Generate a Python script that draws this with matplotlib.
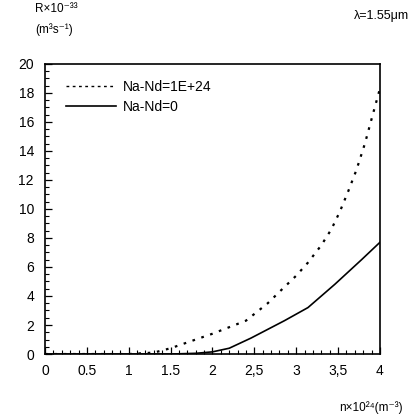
import numpy as np
import matplotlib.pyplot as plt
from matplotlib.ticker import MultipleLocator

plt.rcParams['font.family'] = ['Liberation Sans', 'DejaVu Sans']

# Curve readings (n in 1e24 m^-3, R in 1e-33 m^3 s^-1)
n_doped = [0.0, 0.5, 1.0, 1.3, 1.5, 1.7, 2.0, 2.4, 2.66, 2.82, 3.0, 3.14, 3.3,
           3.42, 3.52, 3.62, 3.72, 3.82, 3.9, 4.0]
r_doped = [0.0, 0.0, 0.0, 0.1, 0.4, 0.8, 1.4, 2.3, 3.5, 4.4, 5.4, 6.3, 7.5,
           8.6, 9.8, 11.2, 12.7, 14.5, 16.2, 18.3]
n_undoped = [0.0, 0.5, 1.0, 1.5, 1.8, 2.0, 2.2, 2.46, 2.86, 3.14, 3.46, 3.78, 4.0]
r_undoped = [0.0, 0.0, 0.0, 0.0, 0.05, 0.15, 0.4, 1.1, 2.3, 3.2, 4.8, 6.5, 7.7]

x_ticks = [0, 0.5, 1, 1.5, 2, 2.5, 3, 3.5, 4]
x_ticklabels = ['0', '0.5', '1', '1.5', '2', '2,5', '3', '3,5', '4']
y_ticks = list(range(0, 21, 2))

fig = plt.figure(figsize=(4.13, 4.17), dpi=100)
ax = fig.add_axes([0.109, 0.151, 0.811, 0.696])

ax.plot(n_doped, r_doped, color='black', linestyle=(0, (1.2, 3)), linewidth=1.6,
        label='Na-Nd=1E+24')
ax.plot(n_undoped, r_undoped, color='black', linestyle='-', linewidth=1.2,
        label='Na-Nd=0')

ax.set_xlim(0, 4)
ax.set_ylim(0, 20)
ax.set_xticks(x_ticks)
ax.set_xticklabels(x_ticklabels)
ax.set_yticks(y_ticks)
ax.xaxis.set_minor_locator(MultipleLocator(0.1))
ax.yaxis.set_minor_locator(MultipleLocator(0.5))
ax.tick_params(direction='in', length=5, width=0.9, labelsize=10, pad=8)
ax.tick_params(which='minor', direction='in', length=3, width=0.8)
ax.tick_params(axis='x', pad=7)
for s in ax.spines.values():
    s.set_linewidth(1.2)

leg = ax.legend(loc='upper left', frameon=False, fontsize=10, handlelength=3.6,
                handletextpad=0.5, labelspacing=0.45,
                bbox_to_anchor=(0.045, 0.965), borderaxespad=0.0)
leg.get_lines()[0].set_linestyle((0, (2, 2.5)))
leg.get_lines()[0].set_linewidth(1.0)

fig.text(0.085, 0.992, 'R×10⁻³³', fontsize=8.5, va='top', ha='left')
fig.text(0.085, 0.945, '(m³s⁻¹)', fontsize=8.5, va='top', ha='left')
fig.text(0.99, 0.962, 'λ=1.55μm', fontsize=9, va='center', ha='right')
fig.text(0.975, 0.022, 'n×10²⁴(m⁻³)', fontsize=8.5, va='center', ha='right')

fig.savefig('out.png', dpi=100)
